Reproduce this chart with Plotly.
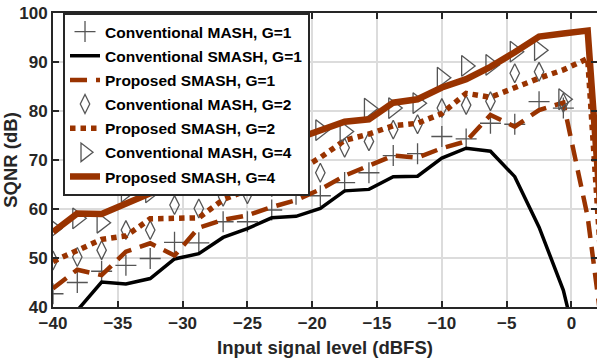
import plotly.graph_objects as go

# ---- data ----
x_levels = [-40, -38.125, -36.25, -34.375, -32.5, -30.625, -28.75, -26.875,
            -25, -23.125, -21.25, -19.375, -17.5, -15.625, -13.75, -11.875,
            -10, -8.125, -6.25, -4.375, -2.5, -0.625, 1.25, 3.125]

mash_g1 = [42.7, 45.0, 47.3, 48.5, 49.9, 53.2, 53.1, 57.4, 57.4, 59.8, 63.0,
           62.7, 65.4, 67.4, 70.9, 71.3, 74.8, 74.3, 77.5, 77.3, 81.9, 80.6]
smash_g1 = [35.0, 39.3, 45.1, 44.7, 45.8, 49.8, 50.9, 54.2, 56.0, 58.2, 58.5,
            60.1, 63.7, 64.0, 66.6, 66.7, 70.4, 72.4, 71.8, 66.6, 56.3, 43.4, 23.0]
prop_g1 = [43.8, 47.6, 46.5, 51.3, 53.0, 50.5, 56.2, 57.8, 58.7, 60.4, 61.8,
           64.0, 66.8, 68.8, 70.9, 70.5, 72.4, 73.8, 79.2, 76.8, 80.2, 81.7, 58.4, 20.0]
mash_g2 = [49.5, 50.2, 51.6, 55.7, 55.7, 60.8, 60.1, 62.5, 63.0, 64.5, 65.5,
           67.4, 72.5, 73.8, 76.2, 77.3, 80.6, 81.2, 82.0, 87.7, 88.0, 81.7]
prop_g2 = [49.3, 51.5, 53.8, 54.5, 58.0, 58.1, 58.2, 61.9, 64.0, 65.8, 67.6,
           70.5, 74.0, 75.3, 77.0, 77.5, 79.5, 83.6, 82.8, 84.9, 86.7, 88.4, 90.7, 15.0]
mash_g4 = [56.0, 58.1, 57.2, 63.5, 63.4, 66.0, 67.0, 69.0, 71.0, 72.0, 74.0,
           76.1, 75.8, 80.5, 80.6, 81.6, 86.8, 89.2, 89.4, 92.1, 92.4, 82.4]
prop_g4 = [55.3, 59.1, 59.0, 61.1, 63.2, 64.5, 66.0, 68.0, 70.3, 72.3, 74.3,
           76.2, 77.8, 78.3, 81.7, 82.4, 84.8, 86.5, 89.0, 92.0, 95.2, 95.8, 96.4, 27.0]

names = ["Conventional MASH, G=1", "Conventional SMASH, G=1", "Proposed SMASH, G=1",
         "Conventional MASH, G=2", "Proposed SMASH, G=2", "Conventional MASH, G=4",
         "Proposed SMASH, G=4"]

BROWN = "#993300"
GRAY = "#555555"
FONT = "Liberation Sans, Arial"

fig = go.Figure()
fig.add_trace(go.Scatter(x=x_levels[:len(mash_g1)], y=mash_g1, mode="markers", name=names[0],
                         legendgroup="a",
                         marker=dict(symbol="cross-thin-open", size=15, color=GRAY,
                                     line=dict(color=GRAY, width=1.3))))
fig.add_trace(go.Scatter(x=x_levels[:len(smash_g1)], y=smash_g1, mode="lines", name=names[1],
                         legendgroup="b",
                         line=dict(color="black", width=3.5)))
fig.add_trace(go.Scatter(x=x_levels[:len(prop_g1)], y=prop_g1, mode="lines", name=names[2],
                         legendgroup="c",
                         line=dict(color=BROWN, width=4.5, dash="17px,9px")))
fig.add_trace(go.Scatter(x=x_levels[:len(mash_g2)], y=mash_g2, mode="markers", name=names[3],
                         legendgroup="d",
                         marker=dict(symbol="diamond-tall-open", size=13.5, color=GRAY,
                                     line=dict(color=GRAY, width=1.3))))
fig.add_trace(go.Scatter(x=x_levels[:len(prop_g2)], y=prop_g2, mode="lines", name=names[4],
                         legendgroup="e",
                         line=dict(color=BROWN, width=5.5, dash="5.5px,5px")))
fig.add_trace(go.Scatter(x=x_levels[:len(mash_g4)], y=mash_g4, mode="markers", name=names[5],
                         legendgroup="f",
                         marker=dict(symbol="triangle-right-open", size=18, color=GRAY,
                                     line=dict(color=GRAY, width=1.3))))
fig.add_trace(go.Scatter(x=x_levels[:len(prop_g4)], y=prop_g4, mode="lines", name=names[6],
                         legendgroup="g",
                         line=dict(color=BROWN, width=6.5)))

axis_common = dict(showline=True, linecolor="#262626", linewidth=2, mirror="ticks",
                   ticks="inside", ticklen=6, tickwidth=1.5, tickcolor="#262626",
                   showgrid=True, gridcolor="#dcdcdc", gridwidth=1.5, zeroline=False,
                   automargin=False,
                   tickfont=dict(family=FONT, size=17, color="#262626", weight="bold"))

fig.update_layout(
    width=597, height=358,
    margin=dict(l=53, r=0, t=13, b=51),
    paper_bgcolor="white", plot_bgcolor="white",
    xaxis=dict(range=[-40, 1.97], tickmode="array", tickvals=[-40, -35, -30, -25, -20, -15, -10, -5, 0],
               title=dict(text="Input signal level (dBFS)", standoff=9,
                          font=dict(family=FONT, size=18.5, color="#262626", weight="bold")),
               **axis_common),
    yaxis=dict(range=[40, 100], tickmode="array", tickvals=[40, 50, 60, 70, 80, 90, 100],
               title=dict(text="SQNR (dB)",
                          font=dict(family=FONT, size=18.5, color="#262626", weight="bold")),
               **axis_common),
    legend=dict(x=0.0184, y=1.0, xanchor="left", yanchor="top",
                bgcolor="white", bordercolor="#262626", borderwidth=2,
                tracegroupgap=1, itemwidth=30,
                font=dict(family=FONT, size=15.5, color="black", weight="bold")),
    showlegend=True,
)

fig.write_html("out.html", config={"displayModeBar": False},
               post_script="document.body.style.margin='0';document.body.style.overflow='hidden';")
